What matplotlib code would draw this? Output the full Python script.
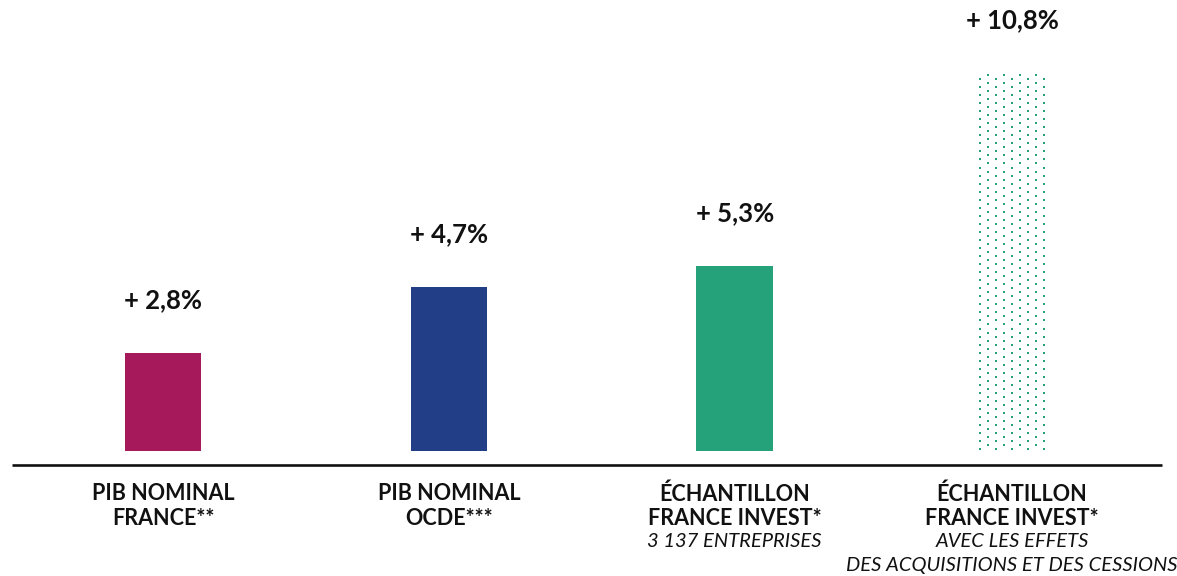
import numpy as np
import matplotlib.pyplot as plt

# values in %
categories = ["PIB NOMINAL\nFRANCE**", "PIB NOMINAL\nOCDE***",
              "ÉCHANTILLON\nFRANCE INVEST*", "ÉCHANTILLON\nFRANCE INVEST*"]
subtitles = ["", "", "3 137 ENTREPRISES",
             "AVEC LES EFFETS\nDES ACQUISITIONS ET DES CESSIONS"]
values = [2.8, 4.7, 5.3, 10.8]
value_labels = ["+ 2,8%", "+ 4,7%", "+ 5,3%", "+ 10,8%"]
colors = ["#A6195A", "#213E86", "#26A27B", "#26A27B"]
dotted = [False, False, False, True]

plt.rcParams['font.family'] = ['Lato', 'DejaVu Sans']

fig = plt.figure(figsize=(11.77, 5.76), dpi=100)
ax = fig.add_axes([0, 0, 1, 1])
ax.set_xlim(-0.576, 3.583)
ax.set_ylim(-3.571, 12.886)
ax.axis('off')

x = np.array([0, 1.01, 2.02, 3.0])
width = 0.27

for xi, v, c, d in zip(x, values, colors, dotted):
    if not d:
        ax.bar(xi, v, width=width, color=c, linewidth=0)
    else:
        # dotted bar: staggered grid of small squares
        nx, dy = 9, 0.115
        px = (width * 0.85) / (nx - 1)
        xs_all, ys_all = [], []
        rows = np.arange(0.05, v, dy)
        for k, yy in enumerate(rows):
            cols = np.arange(nx)[(np.arange(nx) + k) % 2 == 0]
            for cidx in cols:
                xs_all.append(xi - width * 0.425 + cidx * px)
                ys_all.append(yy)
        ax.scatter(xs_all, ys_all, s=2.5, marker='s', color=c, linewidths=0)

for xi, v, lab in zip(x, values, value_labels):
    ax.text(xi, v + 1.5, lab, ha='center', va='center',
            fontsize=18.5, fontweight='bold', color='#111111')

# baseline
ax.plot([-0.534, 3.53], [-0.4, -0.4], color='#111111', lw=1.9,
        solid_capstyle='butt')

step = 17.8
for xi, cat, sub in zip(x, categories, subtitles):
    lines = [(l, 'bold') for l in cat.split("\n")]
    if sub:
        lines += [(l, 'italic') for l in sub.split("\n")]
    for k, (txt, style) in enumerate(lines):
        if style == 'bold':
            kw = dict(fontweight='bold', fontsize=15.5)
        else:
            kw = dict(fontstyle='italic', fontsize=14.5, fontweight='normal')
        ax.annotate(txt, (xi, -0.92), xytext=(0, -k * step),
                    textcoords='offset points', ha='center', va='top',
                    color='#111111', **kw)

plt.savefig("out.png", dpi=100)
